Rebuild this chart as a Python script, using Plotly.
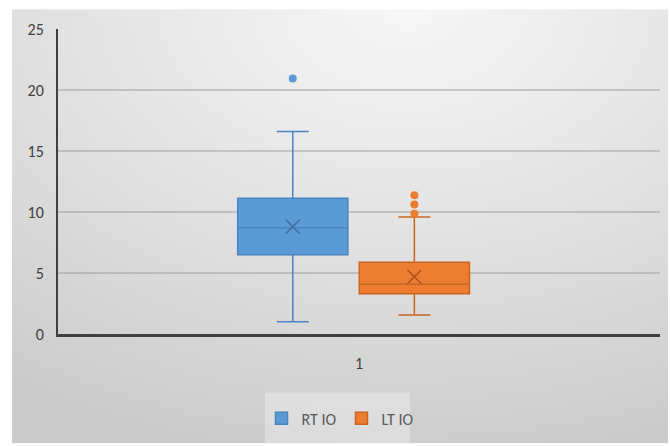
import urllib.parse
import plotly.graph_objects as go

# ---- data ----
series_names = ["RT IO", "LT IO"]
category_labels = ["1"]
q1_vals = [6.5, 3.3]
median_vals = [8.7, 4.07]
q3_vals = [11.13, 5.89]
lower_whisker = [1.0, 1.55]
upper_whisker = [16.6, 9.58]
mean_vals = [8.8, 4.7]
outliers = [[20.95], [9.85, 10.62, 11.38]]

# ---- styling ----
fill_colors = ["#5B9BD5", "#ED7D31"]
line_colors = ["#4A84C0", "#C8651F"]
mean_colors = ["#3E6E9E", "#A9531A"]
positions = [0.89, 1.092]
box_width = 0.183
FONT = "'Liberation Sans Narrow', Carlito, Lato, sans-serif"

fig = go.Figure()
for i, name in enumerate(series_names):
    fig.add_trace(go.Box(
        name=name, x=[positions[i]],
        q1=[q1_vals[i]], median=[median_vals[i]], q3=[q3_vals[i]],
        lowerfence=[lower_whisker[i]], upperfence=[upper_whisker[i]],
        width=box_width, whiskerwidth=0.29,
        fillcolor=fill_colors[i],
        line=dict(color=line_colors[i], width=1.5),
        boxpoints=False, hoverinfo="skip",
    ))
for i, name in enumerate(series_names):
    fig.add_trace(go.Scatter(
        x=[positions[i]] * len(outliers[i]), y=outliers[i], mode="markers",
        marker=dict(color=fill_colors[i], size=8), showlegend=False,
    ))
    fig.add_trace(go.Scatter(
        x=[positions[i]], y=[mean_vals[i]], mode="markers",
        marker=dict(symbol="x-thin", size=14,
                    line=dict(color=mean_colors[i], width=1.5)),
        showlegend=False,
    ))

# background gradient
svg = ('<svg xmlns="http://www.w3.org/2000/svg" width="656" height="437" '
       'preserveAspectRatio="none"><defs><radialGradient id="g" cx="0.6" cy="0.0" r="1.05">'
       '<stop offset="0" stop-color="#F7F7F7"/><stop offset="0.5" stop-color="#E2E2E2"/>'
       '<stop offset="1" stop-color="#CBCBCB"/></radialGradient></defs>'
       '<rect width="100%" height="100%" fill="url(#g)"/></svg>')
src = "data:image/svg+xml;charset=utf-8," + urllib.parse.quote(svg)

L, R, T, B = 58, 660, 29, 336
PW, PH = R - L, B - T
def px(xp): return (xp - L) / PW
def py(yp): return (B - yp) / PH

fig.update_layout(
    width=670, height=446,
    margin=dict(l=L, r=670 - R, t=T, b=446 - B, pad=0),
    paper_bgcolor="white", plot_bgcolor="rgba(0,0,0,0)",
    font=dict(family=FONT, size=16, color="#595959"),
    boxmode="overlay",
    showlegend=True,
    legend=dict(orientation="h", x=px(340), y=py(421), xanchor="center",
                yanchor="middle", bgcolor="rgba(0,0,0,0)",
                font=dict(size=16, color="#595959"), itemwidth=30),
    images=[dict(source=src, xref="paper", yref="paper", x=px(12), y=py(9),
                 sizex=px(668) - px(12), sizey=py(9) - py(446),
                 xanchor="left", yanchor="top", sizing="stretch", layer="below")],
    shapes=[dict(type="rect", xref="paper", yref="paper",
                 x0=px(265), x1=px(410), y0=py(395), y1=py(446),
                 fillcolor="rgba(255,255,255,0.3)", line=dict(width=0), layer="below")],
)
fig.update_xaxes(range=[0.5, 1.5], tickvals=[1], ticktext=category_labels,
                 showgrid=False, zeroline=False, showline=True,
                 linecolor="#404040", linewidth=3, ticks="",
                 ticklabelstandoff=13, tickfont=dict(size=16, color="#404040"))
fig.update_yaxes(range=[0, 25], dtick=5, showgrid=True,
                 gridcolor="rgba(150,150,150,0.45)", gridwidth=1.5,
                 zeroline=False, showline=True, linecolor="#404040", linewidth=2,
                 ticks="", ticklabelstandoff=9, tickfont=dict(size=16, color="#404040"))

fig.write_html("out.html")
